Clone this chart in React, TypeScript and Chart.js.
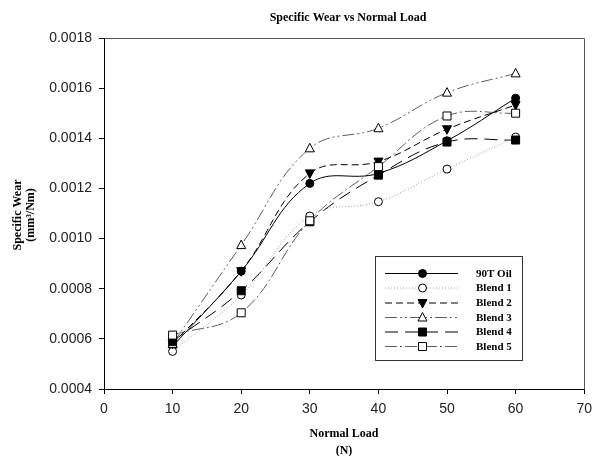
import React, { useEffect, useRef } from "react";
import { Chart, registerables } from "chart.js";

Chart.register(...registerables);

const loads = [10, 20, 30, 40, 50, 60];
const oil90T = [0.00057, 0.00087, 0.00122, 0.00126, 0.00139, 0.00156];
const blend1 = [0.00055, 0.000775, 0.00109, 0.001147, 0.001277, 0.001405];
const blend2 = [0.00058, 0.00087, 0.00126, 0.001307, 0.001436, 0.001533];
const blend3 = [0.00058, 0.000974, 0.00136, 0.00144, 0.001582, 0.001659];
const blend4 = [0.00059, 0.000792, 0.001067, 0.001253, 0.001385, 0.001393];
const blend5 = [0.000615, 0.000704, 0.001071, 0.001287, 0.001489, 0.0015];
const seriesNames = ["90T Oil", "Blend 1", "Blend 2", "Blend 3", "Blend 4", "Blend 5"];
const xTicks = [0, 10, 20, 30, 40, 50, 60, 70];
const yTicks = [0.0004, 0.0006, 0.0008, 0.001, 0.0012, 0.0014, 0.0016, 0.0018];

const seriesValues = [oil90T, blend1, blend2, blend3, blend4, blend5];

type Style = {
  line: string;
  dash: number[];
  shape: "circle" | "triangle" | "triangleDown" | "rect";
  filled: boolean;
};

const styles: Style[] = [
  { line: "#000", dash: [], shape: "circle", filled: true },
  { line: "#9a9a9a", dash: [1, 2], shape: "circle", filled: false },
  { line: "#000", dash: [7, 4], shape: "triangleDown", filled: true },
  { line: "#5e5e5e", dash: [12, 3, 2, 3, 2, 3], shape: "triangle", filled: false },
  { line: "#000", dash: [13, 7], shape: "rect", filled: true },
  { line: "#5e5e5e", dash: [12, 3, 2, 3], shape: "rect", filled: false },
];

function drawMarker(ctx: CanvasRenderingContext2D, s: Style, x: number, y: number) {
  ctx.save();
  ctx.setLineDash([]);
  ctx.lineWidth = 1;
  ctx.strokeStyle = "#000";
  ctx.fillStyle = s.filled ? "#000" : "#fff";
  ctx.beginPath();
  if (s.shape === "circle") {
    ctx.arc(x, y, 4, 0, Math.PI * 2);
  } else if (s.shape === "rect") {
    ctx.rect(x - 4, y - 4, 8, 8);
  } else if (s.shape === "triangle") {
    ctx.moveTo(x, y - 5);
    ctx.lineTo(x + 4.5, y + 3.5);
    ctx.lineTo(x - 4.5, y + 3.5);
    ctx.closePath();
  } else {
    ctx.moveTo(x, y + 5);
    ctx.lineTo(x + 4.5, y - 3.5);
    ctx.lineTo(x - 4.5, y - 3.5);
    ctx.closePath();
  }
  ctx.fill();
  ctx.stroke();
  ctx.restore();
}

const decorPlugin = {
  id: "decor",
  afterDatasetsDraw(chart: any) {
    const ctx: CanvasRenderingContext2D = chart.ctx;
    const ca = chart.chartArea;
    chart.data.datasets.forEach((ds: any, i: number) => {
      const meta = chart.getDatasetMeta(i);
      meta.data.forEach((pt: any) => drawMarker(ctx, styles[i], pt.x, pt.y));
    });
    ctx.save();
    ctx.strokeStyle = "#555";
    ctx.lineWidth = 1;
    ctx.setLineDash([]);
    ctx.beginPath();
    ctx.moveTo(Math.round(ca.left) + 0.5, Math.round(ca.top) + 0.5);
    ctx.lineTo(Math.round(ca.right) + 0.5, Math.round(ca.top) + 0.5);
    ctx.lineTo(Math.round(ca.right) + 0.5, Math.round(ca.bottom) + 0.5);
    ctx.stroke();
    ctx.restore();

    const bx = 375.5, by = 256.5, bw = 147, bh = 104;
    ctx.save();
    ctx.fillStyle = "#fff";
    ctx.fillRect(bx, by, bw, bh);
    ctx.strokeStyle = "#333";
    ctx.lineWidth = 1;
    ctx.strokeRect(bx, by, bw, bh);
    const rows = [273, 287.5, 302.5, 317, 331.5, 346];
    seriesNames.forEach((name, i) => {
      const s = styles[i];
      const y = rows[i];
      ctx.save();
      ctx.strokeStyle = s.line;
      ctx.lineWidth = 1;
      ctx.setLineDash(s.dash);
      ctx.beginPath();
      ctx.moveTo(385, y + 0.5);
      ctx.lineTo(458, y + 0.5);
      ctx.stroke();
      ctx.restore();
      drawMarker(ctx, s, 422.5, y + 0.5);
      ctx.fillStyle = "#000";
      ctx.font = 'bold 11px "Liberation Serif"';
      ctx.textAlign = "left";
      ctx.textBaseline = "middle";
      ctx.fillText(name, 476, y + 1);
    });
    ctx.restore();

    ctx.save();
    ctx.fillStyle = "#000";
    ctx.textAlign = "center";
    ctx.textBaseline = "middle";
    ctx.font = 'bold 12px "Liberation Serif"';
    ctx.fillText("Specific Wear vs Normal Load", 348, 18);
    ctx.fillText("Normal Load", 344, 434);
    ctx.fillText("(N)", 344, 451);
    ctx.save();
    ctx.translate(18, 215);
    ctx.rotate(-Math.PI / 2);
    ctx.fillText("Specific Wear", 0, 0);
    ctx.restore();
    ctx.save();
    ctx.translate(31, 215);
    ctx.rotate(-Math.PI / 2);
    ctx.fillText("(mm\u00B3/Nm)", 0, 0);
    ctx.restore();
    ctx.restore();
  },
};

export default function App() {
  const ref = useRef<HTMLCanvasElement | null>(null);
  useEffect(() => {
    if (!ref.current) return;
    const chart = new Chart(ref.current, {
      type: "line",
      data: {
        datasets: seriesValues.map((vals, i) => ({
          label: seriesNames[i],
          data: vals.map((v, j) => ({ x: loads[j], y: v })),
          borderColor: styles[i].line,
          borderDash: styles[i].dash,
          borderWidth: 1,
          pointRadius: 0,
          pointHoverRadius: 0,
          fill: false,
          tension: 0.4,
        })),
      },
      options: {
        responsive: false,
        animation: false,
        devicePixelRatio: 1,
        events: [],
        layout: { padding: { top: 38, right: 8, left: 0, bottom: 0 } },
        plugins: {
          legend: { display: false },
          title: { display: false },
          tooltip: { enabled: false },
        },
        scales: {
          x: {
            type: "linear",
            min: 0,
            max: 70,
            afterFit: (s: any) => {
              s.height = 67;
            },
            afterBuildTicks: (s: any) => {
              s.ticks = xTicks.map((v) => ({ value: v }));
            },
            ticks: {
              color: "#222",
              font: { family: '"Liberation Sans"', size: 14 },
              padding: 7,
              maxRotation: 0,
              callback: (v: any) => String(v),
            },
            grid: {
              display: true,
              drawOnChartArea: false,
              drawTicks: true,
              tickLength: 5,
              color: "#000",
            },
            border: { display: true, color: "#000" },
          },
          y: {
            type: "linear",
            min: 0.0004,
            max: 0.0018,
            afterFit: (s: any) => {
              s.width = 104;
            },
            afterBuildTicks: (s: any) => {
              s.ticks = yTicks.map((v) => ({ value: v }));
            },
            ticks: {
              color: "#222",
              font: { family: '"Liberation Sans"', size: 14 },
              padding: 7,
              callback: (v: any) => Number(v).toFixed(4),
            },
            grid: {
              display: true,
              drawOnChartArea: false,
              drawTicks: true,
              tickLength: 5,
              color: "#000",
            },
            border: { display: true, color: "#000" },
          },
        },
      },
      plugins: [decorPlugin],
    });
    return () => chart.destroy();
  }, []);
  return (
    <div style={{ position: "fixed", left: 0, top: 0, width: 599, height: 456, background: "#fff" }}>
      <canvas ref={ref} width={599} height={456} style={{ width: 599, height: 456 }} />
    </div>
  );
}
